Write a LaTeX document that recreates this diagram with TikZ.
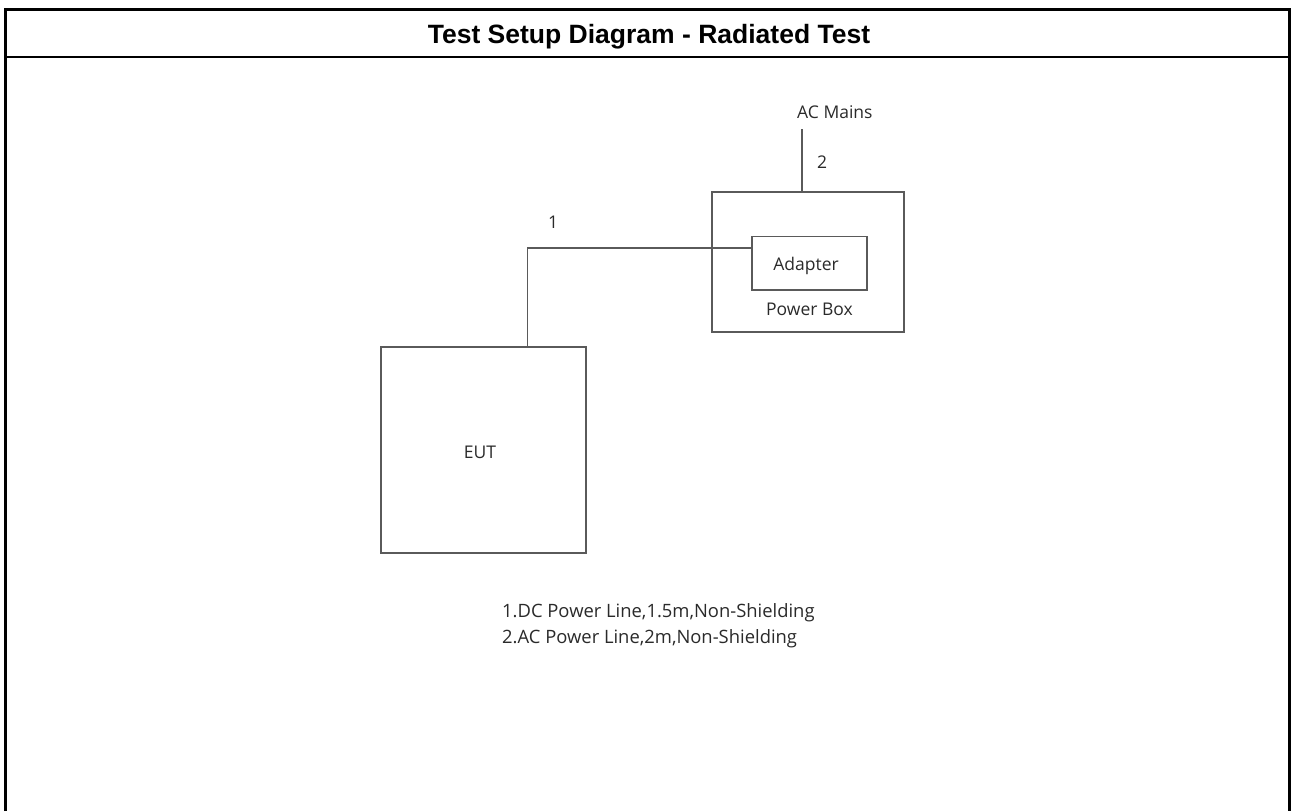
\documentclass[tikz,border=0pt]{standalone}
\usepackage{fontspec}
\setmainfont{Open Sans}
\newfontfamily\headfont{Liberation Sans}
\usetikzlibrary{positioning}
\definecolor{linegray}{HTML}{5A5A5A}
\definecolor{inkgray}{HTML}{2A2A2A}

\begin{document}
\begin{tikzpicture}[
		x=1pt, y=-1pt,
		every node/.style={inner sep=0pt, text=inkgray, font=\fontsize{17.5}{21}\selectfont},
		frame/.style={line width=3pt, black},
		box/.style={draw=linegray, line width=1.4pt},
		cable/.style={draw=linegray, line width=1.4pt},
		lbl/.style={anchor=base},
		note/.style={anchor=base west, font=\fontsize{18.4}{22}\selectfont}
	]
	\useasboundingbox (0,0) rectangle (1292,811);
	
	% frame and heading
	\draw[frame] (5,811) -- (5,9.5) -- (1289,9.5) -- (1289,811);
	\draw[frame, line width=2.5pt] (5,57) -- (1289,57);
	\node(title)[lbl, text=black, font=\headfont\bfseries\fontsize{26.5}{30}\selectfont] at (649,43) {Test Setup Diagram - Radiated Test};
	
	% units
	\node(eut)[box, minimum width=205pt, minimum height=206pt] at (483.5,450) {};
	\node(eutname)[lbl] at (480,458) {EUT};
	\node(powerbox)[box, minimum width=192pt, minimum height=140pt] at (808,262) {};
	\node(adapter)[box, minimum width=115pt, minimum height=53.5pt] at (809.5,263.25) {};
	\node(adaptername)[lbl] at (806,270) {Adapter};
	\node(boxname)[below=12pt of adapter] {Power Box};
	
	% cables
	\coordinate(bend) at (527.5,248);
	\coordinate(mains) at (802,129);
	\draw[cable] (eut.north -| bend) -- (bend) -- (adapter.west |- bend);
	\draw[cable] (powerbox.north -| mains) -- (mains);
	\node(mainsname)[anchor=base west] at (797,118) {AC Mains};
	\node(dcno)[lbl] at (553,228) {1};
	\node(acno)[lbl] at (822,168) {2};
	
	% cable list
	\node(note1)[note] at (502,617) {1.DC Power Line,1.5m,Non-Shielding};
	\node(note2)[note] at (502,643) {2.AC Power Line,2m,Non-Shielding};
	
\end{tikzpicture}
\end{document}
